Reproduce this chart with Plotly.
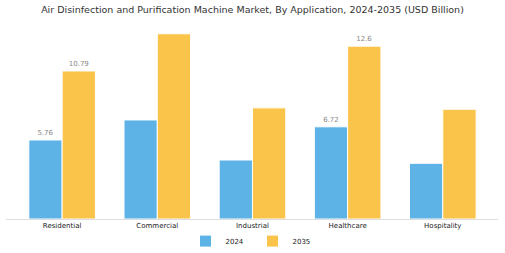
import plotly.graph_objects as go

categories = ["Residential", "Commercial", "Industrial", "Healthcare", "Hospitality"]
values_2024 = [5.76, 7.22, 4.3, 6.72, 4.06]
values_2035 = [10.79, 13.5, 8.1, 12.6, 8.0]
labels_2024 = ["5.76", "", "", "6.72", ""]
labels_2035 = ["10.79", "", "", "12.6", ""]

fig = go.Figure()
fig.add_trace(go.Bar(
    x=categories, y=values_2024, name="2024",
    marker=dict(color="#5DB3E6", line=dict(color="#ffffff", width=1)),
    text=labels_2024, textposition="outside",
    textfont=dict(size=7, color="#888888"), cliponaxis=False,
))
fig.add_trace(go.Bar(
    x=categories, y=values_2035, name="2035",
    marker=dict(color="#FAC44A", line=dict(color="#ffffff", width=1)),
    text=labels_2035, textposition="outside",
    textfont=dict(size=7, color="#888888"), cliponaxis=False,
))

fig.update_layout(
    width=505, height=253,
    margin=dict(l=6, r=7, t=25, b=34, autoexpand=False),
    paper_bgcolor="white", plot_bgcolor="white",
    barmode="group", bargap=0.3, bargroupgap=0,
    font=dict(family="DejaVu Sans", size=7, color="#222222"),
    title=dict(
        text="Air Disinfection and Purification Machine Market, By Application, 2024-2035 (USD Billion)",
        x=0.5, xanchor="center", y=0.96, yanchor="middle",
        font=dict(family="DejaVu Sans", size=9.5, color="#333333"),
    ),
    xaxis=dict(
        range=[-0.59, 4.58], showline=True, linecolor="#dddddd", linewidth=1,
        showgrid=False, ticks="", tickfont=dict(size=7, color="#222222"),
    ),
    yaxis=dict(range=[0, 14.14], visible=False, showgrid=False),
    legend=dict(
        orientation="h", x=0.5, xanchor="center", xref="container",
        y=0.047, yanchor="middle", yref="container",
        bgcolor="rgba(0,0,0,0)",
        entrywidth=22, entrywidthmode="pixels",
        font=dict(size=7, color="#222222"),
    ),
)
fig.update_traces(textangle=0, constraintext="none")

fig.write_html("out.html")
